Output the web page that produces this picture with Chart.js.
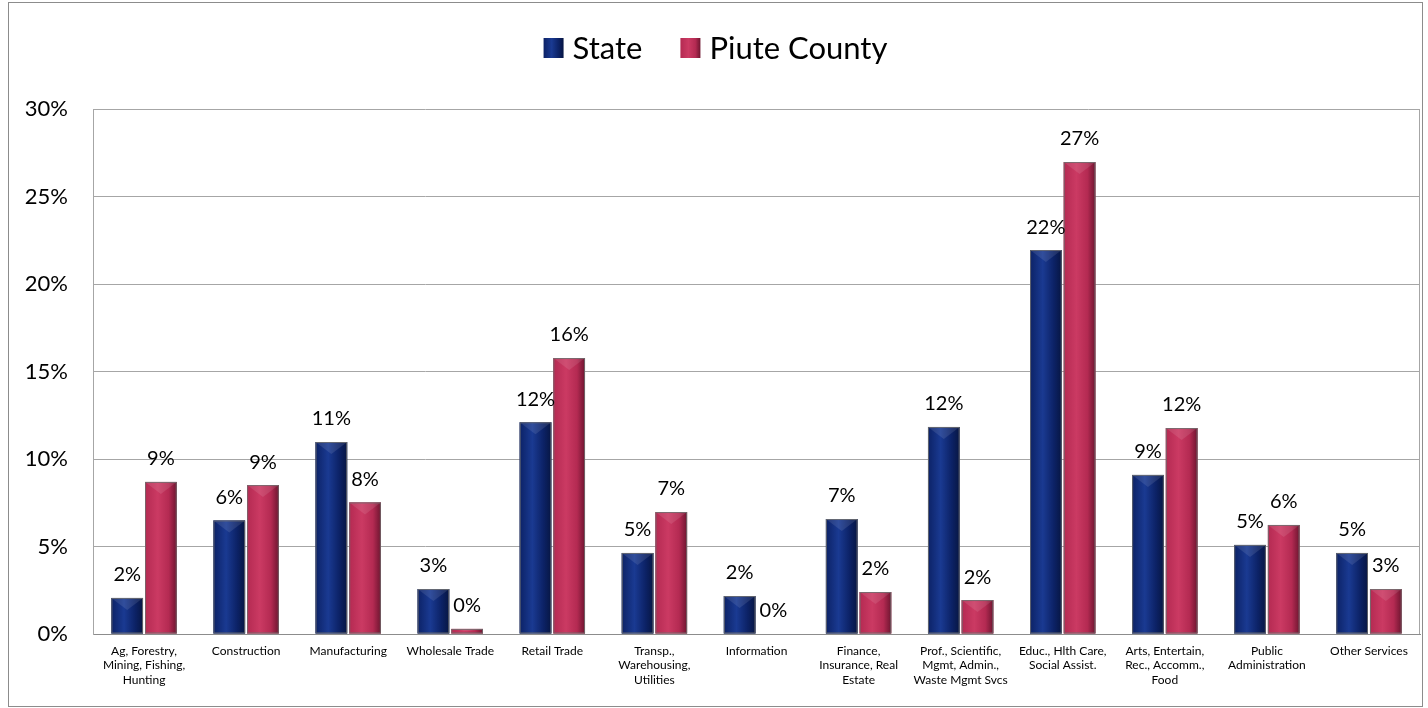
<!DOCTYPE html>
<html>
<head>
<meta charset="utf-8">
<script src="https://cdn.jsdelivr.net/npm/chart.js@4.4.0/dist/chart.umd.min.js"></script>
<style>
  body { margin: 0; background: #fff; }
  #wrap { position: absolute; left: 8px; top: 2px; width: 1413px; height: 703px; border: 1px solid #8c8c8c; }
</style>
</head>
<body>
<div id="wrap"><canvas id="industryChart"></canvas></div>
<script>
// employment share by industry
const industries = [
    ['Ag, Forestry,', 'Mining, Fishing,', 'Hunting'],
    'Construction',
    'Manufacturing',
    'Wholesale Trade',
    'Retail Trade',
    ['Transp.,', 'Warehousing,', 'Utilities'],
    'Information',
    ['Finance,', 'Insurance, Real', 'Estate'],
    ['Prof., Scientific,', 'Mgmt, Admin.,', 'Waste Mgmt Svcs'],
    ['Educ., Hlth Care,', 'Social Assist.'],
    ['Arts, Entertain,', 'Rec., Accomm.,', 'Food'],
    ['Public', 'Administration'],
    'Other Services'
];
const stateShare = [0.0206, 0.0649, 0.1097, 0.0257, 0.1210, 0.0463, 0.0217, 0.0657, 0.1183, 0.2194, 0.0909, 0.0509, 0.0463];
const piuteShare = [0.0869, 0.0851, 0.0752, 0.0029, 0.1577, 0.0697, 0.0000, 0.0240, 0.0194, 0.2697, 0.1177, 0.0623, 0.0257];
const yTicks = [0, 0.05, 0.10, 0.15, 0.20, 0.25, 0.30];

const FONT = 'Lato, "Open Sans", sans-serif';

// left edge, middle, right edge of the rounded bar shading
const shades = {
    State: ['#0c2266', '#1a3a92', '#071643'],
    'Piute County': ['#b42a52', '#cb3a63', '#6e1530']
};

function shadedFill(ctx, x0, x1, cols) {
    const g = ctx.createLinearGradient(x0, 0, x1, 0);
    g.addColorStop(0, cols[0]);
    g.addColorStop(0.4, cols[1]);
    g.addColorStop(0.75, cols[0]);
    g.addColorStop(1, cols[2]);
    return g;
}

// repaint bars as shaded columns
const barShading = {
    id: 'barShading',
    afterDatasetsDraw(chart) {
        const ctx = chart.ctx;
        chart.data.datasets.forEach((ds, di) => {
            const meta = chart.getDatasetMeta(di);
            meta.data.forEach((bar) => {
                const h = bar.base - bar.y;
                if (h <= 0.5) return;
                const x0 = bar.x - bar.width / 2, x1 = bar.x + bar.width / 2;
                ctx.save();
                ctx.fillStyle = shadedFill(ctx, x0, x1, shades[ds.label]);
                ctx.fillRect(x0, bar.y, bar.width, h);
                // small bevel at the top
                const bev = Math.min(12, h / 2);
                ctx.fillStyle = 'rgba(255,255,255,0.10)';
                ctx.beginPath();
                ctx.moveTo(x0, bar.y);
                ctx.lineTo(x1, bar.y);
                ctx.lineTo(bar.x, bar.y + bev);
                ctx.closePath();
                ctx.fill();
                ctx.strokeStyle = 'rgba(110,110,110,0.85)';
                ctx.lineWidth = 1;
                ctx.strokeRect(x0 + 0.5, bar.y + 0.5, bar.width - 1, h - 1);
                ctx.restore();
            });
        });
    }
};

// percentage labels over each bar
const valueLabels = {
    id: 'valueLabels',
    afterDatasetsDraw(chart) {
        const ctx = chart.ctx;
        ctx.save();
        ctx.font = '20px ' + FONT;
        ctx.fillStyle = '#000';
        ctx.textAlign = 'center';
        ctx.textBaseline = 'middle';
        chart.data.datasets.forEach((ds, di) => {
            chart.getDatasetMeta(di).data.forEach((bar, i) => {
                const txt = Math.round(ds.data[i] * 100) + '%';
                ctx.fillText(txt, bar.x, bar.y - 23);
            });
        });
        ctx.restore();
    }
};

// legend across the top
const topLegend = {
    id: 'topLegend',
    afterDraw(chart) {
        const ctx = chart.ctx;
        const box = 20, gapText = 9, gapItem = 38, cy = 45;
        ctx.save();
        ctx.font = '31px ' + FONT;
        ctx.textBaseline = 'middle';
        const items = chart.data.datasets.map(d => ({ label: d.label, w: box + gapText + ctx.measureText(d.label).width }));
        const total = items.reduce((s, it) => s + it.w, 0) + gapItem * (items.length - 1);
        let x = (chart.width - total) / 2;
        items.forEach((it) => {
            ctx.fillStyle = shadedFill(ctx, x, x + box, shades[it.label]);
            ctx.fillRect(x, cy - box / 2, box, box);
            ctx.fillStyle = '#000';
            ctx.fillText(it.label, x + box + gapText, cy + 1);
            x += it.w + gapItem;
        });
        ctx.restore();
    }
};

new Chart(document.getElementById('industryChart'), {
    type: 'bar',
    data: {
        labels: industries,
        datasets: [
            { label: 'State', data: stateShare, backgroundColor: '#10287a' },
            { label: 'Piute County', data: piuteShare, backgroundColor: '#b42a52' }
        ]
    },
    options: {
        responsive: true,
        maintainAspectRatio: false,
        animation: false,
        layout: { padding: { top: 106, right: 2, left: 0, bottom: 0 } },
        datasets: { bar: { categoryPercentage: 0.66, barPercentage: 0.94 } },
        scales: {
            x: {
                grid: { display: false, drawTicks: false },
                border: { color: '#8c8c8c', width: 1 },
                ticks: { color: '#000', font: { family: FONT, size: 12 }, padding: 10, maxRotation: 0, autoSkip: false },
                afterFit(scale) { scale.height = 72; }
            },
            y: {
                min: 0,
                max: 0.30,
                afterBuildTicks(scale) { scale.ticks = yTicks.map(v => ({ value: v })); },
                grid: { color: '#a6a6a6', drawTicks: false },
                border: { color: '#a6a6a6' },
                ticks: {
                    color: '#000',
                    font: { family: FONT, size: 22 },
                    padding: 25,
                    callback: (v) => Math.round(v * 100) + '%'
                },
                afterFit(scale) { scale.width = 84; }
            }
        },
        plugins: {
            legend: { display: false },
            tooltip: { enabled: false }
        }
    },
    plugins: [barShading, valueLabels, topLegend, {
        id: 'plotFrame',
        beforeDatasetsDraw(chart) {
            const a = chart.chartArea, ctx = chart.ctx;
            ctx.save();
            ctx.strokeStyle = '#a6a6a6';
            ctx.lineWidth = 1;
            ctx.beginPath();
            ctx.moveTo(Math.round(a.right) - 0.5, a.top);
            ctx.lineTo(Math.round(a.right) - 0.5, a.bottom);
            ctx.stroke();
            ctx.restore();
        }
    }]
});
</script>
</body>
</html>
